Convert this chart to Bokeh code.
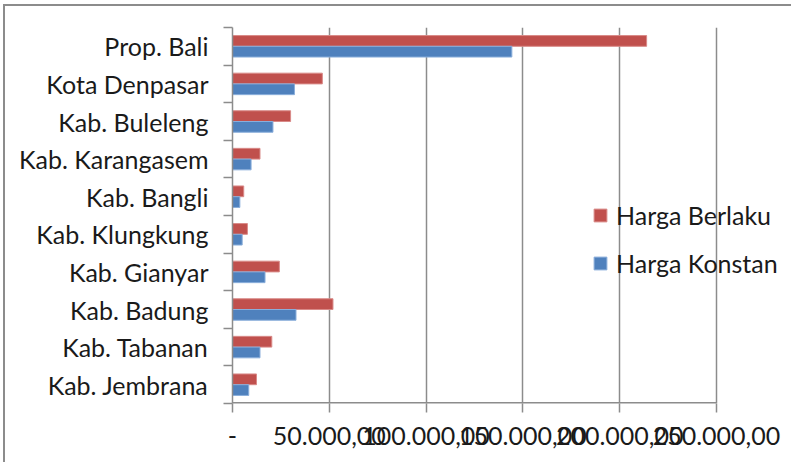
from bokeh.plotting import figure
from bokeh.models import FixedTicker, Legend, LegendItem, ColumnDataSource, Range1d
from bokeh.embed import file_html
from bokeh.resources import INLINE

categories = ["Prop. Bali", "Kota Denpasar", "Kab. Buleleng", "Kab. Karangasem",
              "Kab. Bangli", "Kab. Klungkung", "Kab. Gianyar", "Kab. Badung",
              "Kab. Tabanan", "Kab. Jembrana"]
harga_berlaku = [213900, 46400, 30000, 14200, 5800, 7700, 24200, 51900, 20300, 12400]
harga_konstan = [144300, 32000, 20900, 9600, 3800, 5000, 16800, 32800, 14200, 8400]
x_ticks = [0, 50000, 100000, 150000, 200000, 250000]
x_tick_labels = ["-", "50.000,00", "100.000,00", "150.000,00", "200.000,00", "250.000,00"]

FONT = "Lato"
FS = "25px"
RED = "#C0504D"
BLUE = "#4F81BD"
GRID = "#8c8c8c"

W, H = 788, 458
LEFT, TOP, AXIS_LEN, FRAME_H = 227, 21, 484, 376

n = len(categories)
centers = [n - i - 0.5 for i in range(n)]
bar_h = 1.0 / 3.5
src = ColumnDataSource(dict(
    cat=categories,
    y_red=[c + bar_h / 2 for c in centers],
    y_blue=[c - bar_h / 2 for c in centers],
    berlaku=harga_berlaku,
    konstan=harga_konstan,
))

# frame extends to the right edge so the legend is not clipped; axis drawn up to last tick
x_end = x_ticks[-1] * (W - LEFT) / AXIS_LEN
p = figure(width=W, height=H, x_range=Range1d(0, x_end), y_range=Range1d(0, n),
           output_backend="svg", toolbar_location=None,
           min_border_left=LEFT, min_border_right=0, min_border_top=TOP,
           min_border_bottom=H - TOP - FRAME_H)
p.styles = {"border-top": "2px solid #8c8c8c", "border-left": "2px solid #8c8c8c",
            "margin-left": "3px", "margin-top": "4px"}

r_red = p.hbar(y="y_red", right="berlaku", left=0, height=bar_h, source=src,
               fill_color=RED, line_color="#d98a88", line_width=1)
r_blue = p.hbar(y="y_blue", right="konstan", left=0, height=bar_h, source=src,
                fill_color=BLUE, line_color="#8aaedb", line_width=1)

# x axis line only up to the last tick
p.segment(x0=[x_ticks[0]], x1=[x_ticks[-1]], y0=[0], y1=[0], line_color=GRID, line_width=3)

p.outline_line_color = None
p.ygrid.grid_line_color = None
p.xgrid.grid_line_color = GRID
p.xgrid.grid_line_width = 1.5

p.xaxis.ticker = FixedTicker(ticks=x_ticks)
p.xaxis.major_label_overrides = {t: l for t, l in zip(x_ticks, x_tick_labels)}
p.xaxis.major_tick_in = 0
p.xaxis.major_tick_out = 9
p.xaxis.minor_tick_out = 0
p.xaxis.minor_tick_in = 0
p.xaxis.axis_line_color = None
p.xaxis.major_tick_line_color = GRID
p.xaxis.major_tick_line_width = 1.5
p.xaxis.major_label_standoff = 14
p.xaxis.major_label_text_font = FONT
p.xaxis.major_label_text_font_size = FS
p.xaxis.major_label_text_color = "#1a1a1a"

p.yaxis.ticker = FixedTicker(ticks=centers, minor_ticks=list(range(n + 1)))
p.yaxis.major_label_overrides = {c: name for c, name in zip(centers, categories)}
p.yaxis.major_tick_line_color = None
p.yaxis.minor_tick_in = 0
p.yaxis.minor_tick_out = 9
p.yaxis.minor_tick_line_color = GRID
p.yaxis.minor_tick_line_width = 1.5
p.yaxis.axis_line_color = GRID
p.yaxis.axis_line_width = 1.5
p.yaxis.major_label_standoff = 15
p.yaxis.major_label_text_font = FONT
p.yaxis.major_label_text_font_size = FS
p.yaxis.major_label_text_color = "#1a1a1a"

legend = Legend(items=[LegendItem(label="Harga Berlaku", renderers=[r_red]),
                       LegendItem(label="Harga Konstan", renderers=[r_blue])],
                location=(360, 125), orientation="vertical",
                background_fill_alpha=0, border_line_color=None,
                glyph_width=16, glyph_height=16, label_standoff=8,
                label_height=30, spacing=18, padding=0, margin=0,
                label_text_font=FONT, label_text_font_size=FS, label_text_color="#1a1a1a")
p.add_layout(legend, "center")

open("out.html", "w").write(file_html(p, INLINE))
